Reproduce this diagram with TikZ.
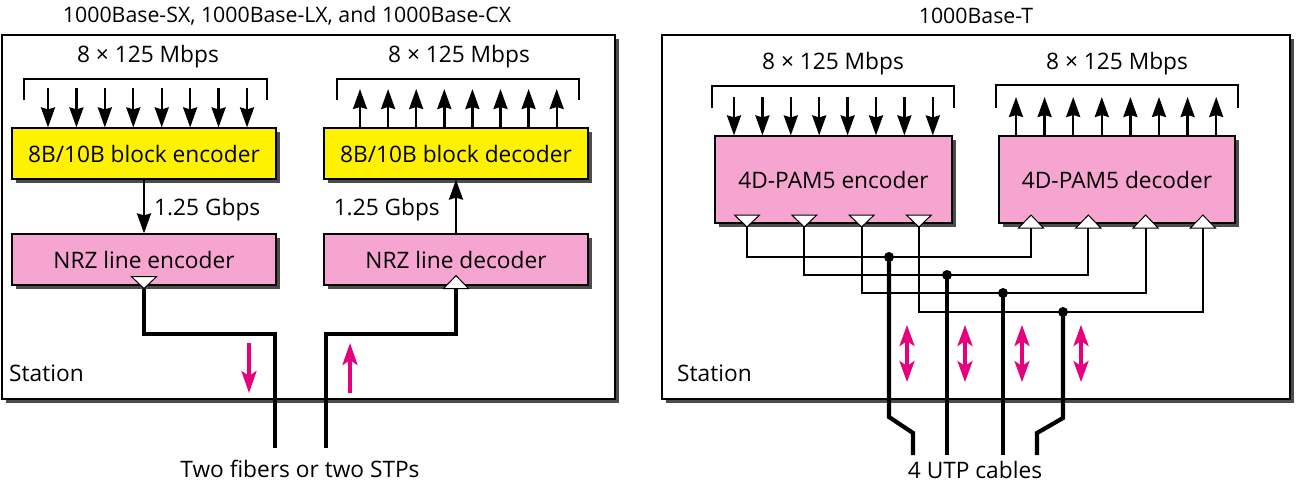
\documentclass[tikz,border=0pt]{standalone}
\usepackage{fontspec}
\setmainfont{Open Sans}
\usetikzlibrary{arrows.meta,shadows,calc}
\definecolor{boxyellow}{HTML}{FFF200}
\definecolor{boxpink}{HTML}{F6A5D0}
\definecolor{mag}{HTML}{E6007E}
\tikzset{
  shadowed/.style={drop shadow={shadow xshift=3.5pt,shadow yshift=-3.5pt,fill=black!70,opacity=1}},
  panel/.style={draw,line width=1.6pt,fill=white,shadowed,inner sep=0pt},
  blk/.style={draw,line width=1.2pt,shadowed,inner sep=0pt},
  brk/.style={line width=1.1pt},
  arr/.style={line width=2.4pt,-{Stealth[width=14pt,length=20pt,inset=2pt]}},
  tri/.style={draw=black,fill=white,line width=1pt,line join=miter},
  cable/.style={line width=4.2pt,line join=miter},
  wire/.style={line width=2pt,line join=miter},
  parr/.style={draw=mag,line width=3.2pt,-{Stealth[width=15pt,length=22pt,inset=5pt]}},
  pdarr/.style={draw=mag,line width=3.2pt,{Stealth[width=15pt,length=21pt,inset=5pt]}-{Stealth[width=15pt,length=21pt,inset=5pt]}},
  lbl/.style={inner sep=0pt},
  ttl/.style={inner sep=0pt,font=\fontsize{21.3}{25}\selectfont}
}
\begin{document}
\begin{tikzpicture}[x=1pt,y=-1pt,font=\fontsize{22.7}{27}\selectfont]
\useasboundingbox (0,0) rectangle (1296,491);
\node[ttl] (t1) at (287,16) {1000Base-SX, 1000Base-LX, and 1000Base-CX};
\node[ttl] (t2) at (976,16) {1000Base-T};
\node[panel,minimum width=613pt,minimum height=364pt] (lp) at (308.5,217) {};
\node[panel,minimum width=628pt,minimum height=364pt] (rp) at (976,217) {};
\node[lbl,anchor=west] (st1) at (9,373) {Station};
\node[lbl,anchor=west] (st2) at (677,373) {Station};

% ---------- left panel ----------
\node[blk,fill=boxyellow,minimum width=264pt,minimum height=51pt] (enc) at (144,153.5) {8B/10B block encoder};
\node[blk,fill=boxyellow,minimum width=264pt,minimum height=51pt] (dec) at (456,153.5) {8B/10B block decoder};
\node[blk,fill=boxpink,minimum width=264pt,minimum height=51pt] (nrze) at (144,259.5) {NRZ line encoder};
\node[blk,fill=boxpink,minimum width=264pt,minimum height=51pt] (nrzd) at (456,259.5) {NRZ line decoder};

\node[lbl] (r1) at (148,57) {8 × 125 Mbps};
\node[lbl] (r2) at (459,57) {8 × 125 Mbps};
\draw[brk] (24,100) |- (267,79) -- (267,100);
\draw[brk] (337,100) |- (579,79) -- (579,100);
\foreach \i in {0,...,7}{
  \coordinate (ein\i) at ({48+\i*28.43},88);
  \draw[arr] (ein\i) -- (ein\i |- enc.north);
  \coordinate (dout\i) at ({360+\i*28.1},89);
  \draw[arr] (dout\i |- dec.north) -- (dout\i);
}
\draw[arr] (enc.south) -- (nrze.north);
\draw[arr] (nrzd.north) -- (dec.south);
\node[lbl,anchor=west] (g1) at (154,210) {1.25 Gbps};
\node[lbl,anchor=east] (g2) at (440,210) {1.25 Gbps};

\coordinate (te) at ($(nrze.south)+(0,3)$);
\filldraw[tri] ($(nrze.south)+(-12.5,-9)$) -- ($(nrze.south)+(12.5,-9)$) -- (te) -- cycle;
\coordinate (td) at ($(nrzd.south)+(0,3)$);
\filldraw[tri] ($(nrzd.south)+(-12.5,3)$) -- ($(nrzd.south)+(12.5,3)$) -- ($(nrzd.south)+(0,-10)$) -- cycle;

\coordinate (f1b) at (275,334);
\coordinate (f1) at (275,448);
\coordinate (f2b) at (326,334);
\coordinate (f2) at (326,448);
\draw[cable] (te) |- (f1b) -- (f1);
\draw[cable] (td) |- (f2b) -- (f2);

\coordinate (pa1) at (249,343); \coordinate (pb1) at (249,393);
\draw[parr] (pa1) -- (pb1);
\coordinate (pa2) at (350,393); \coordinate (pb2) at (350,343);
\draw[parr] (pa2) -- (pb2);

\node[lbl] (cap1) at (300,469) {Two fibers or two STPs};

% ---------- right panel ----------
\node[blk,fill=boxpink,minimum width=237pt,minimum height=87pt] (penc) at (833.5,179.5) {4D-PAM5 encoder};
\node[blk,fill=boxpink,minimum width=236pt,minimum height=87pt] (pdec) at (1117,179.5) {4D-PAM5 decoder};
\node[lbl] (r3) at (833,64) {8 × 125 Mbps};
\node[lbl] (r4) at (1117,64) {8 × 125 Mbps};
\draw[brk] (712,108) |- (954,86) -- (954,108);
\draw[brk] (996,108) |- (1238,85) -- (1238,108);
\foreach \i in {0,...,7}{
  \coordinate (pin\i) at ({734+\i*28.4},97);
  \draw[arr] (pin\i) -- (pin\i |- penc.north);
  \coordinate (pout\i) at ({1016+\i*28.6},97);
  \draw[arr] (pout\i |- pdec.north) -- (pout\i);
}
\foreach \i/\r in {0/257,1/275,2/293,3/312}{
  \coordinate (eo\i) at ({747+\i*57.3},227);
  \coordinate (di\i) at ({1031+\i*57.3},228);
  \coordinate (wr\i) at ({1031+\i*57.3},\r);
  \draw[wire] (eo\i) |- (wr\i) -- (di\i);
  \filldraw[tri] ($(eo\i)+(-12.5,-12)$) -- ($(eo\i)+(12.5,-12)$) -- (eo\i) -- cycle;
  \filldraw[tri] ($(di\i)+(-12.5,0)$) -- ($(di\i)+(12.5,0)$) -- ($(di\i)+(0,-13)$) -- cycle;
}
% cables
\coordinate (d1) at (889,257); \coordinate (d2) at (947,275);
\coordinate (d3) at (1003,293); \coordinate (d4) at (1063,312);
\coordinate (c1a) at (889,417); \coordinate (c1b) at (913,433); \coordinate (c1) at (913,455);
\coordinate (c2) at (947,455); \coordinate (c3) at (1003,455);
\coordinate (c4a) at (1063,418); \coordinate (c4b) at (1037,433); \coordinate (c4) at (1037,455);
\draw[cable] (d1) -- (c1a) -- (c1b) -- (c1);
\draw[cable] (d2) -- (c2);
\draw[cable] (d3) -- (c3);
\draw[cable] (d4) -- (c4a) -- (c4b) -- (c4);
\foreach \d in {d1,d2,d3,d4}{ \fill (\d) circle (5pt); }
\foreach \x [count=\k] in {907,965,1022,1081}{
  \coordinate (qa\k) at (\x,325); \coordinate (qb\k) at (\x,382);
  \draw[pdarr] (qa\k) -- (qb\k);
}
\node[lbl] (cap2) at (975,470) {4 UTP cables};
\end{tikzpicture}
\end{document}
